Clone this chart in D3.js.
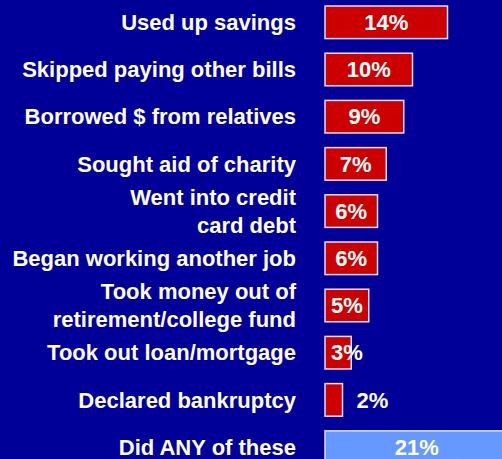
<!DOCTYPE html>
<html>
<head>
<meta charset="utf-8">
<script src="https://cdn.jsdelivr.net/npm/d3@7"></script>
<style>
  html, body { margin: 0; padding: 0; background: #000099; overflow: hidden; }
  svg { display: block; }
</style>
</head>
<body>
<script>
var width = 502,
    height = 459;

// what people did, top to bottom
var categories = [
  "Used up savings",
  "Skipped paying other bills",
  "Borrowed $ from relatives",
  "Sought aid of charity",
  "Went into credit\ncard debt",
  "Began working another job",
  "Took money out of\nretirement/college fund",
  "Took out loan/mortgage",
  "Declared bankruptcy",
  "Did ANY of these"
];
var percents = [14, 10, 9, 7, 6, 6, 5, 3, 2, 21];
var totalRow = "Did ANY of these";

var svg = d3.select("body")
    .append("svg")
    .attr("width", width)
    .attr("height", height);

svg.append("rect")
    .attr("width", width)
    .attr("height", height)
    .attr("fill", "#000099");

var x = d3.scaleLinear()
    .domain([0, 20])
    .range([325, 500]);

var y = d3.scaleBand()
    .domain(categories)
    .range([-1.3, 470.7])
    .paddingInner(0.31)
    .paddingOuter(0.155);

var rows = categories.map(function(c, i){ return { cat: c, v: percents[i] }; });

var font = "'Liberation Sans', Arial, Helvetica, sans-serif";

// bars
svg.selectAll("rect.bar")
    .data(rows)
    .enter().append("rect")
    .attr("class", "bar")
    .attr("x", x(0))
    .attr("y", function(d){ return y(d.cat); })
    .attr("width", function(d){ return x(d.v) - x(0); })
    .attr("height", y.bandwidth())
    .attr("fill", function(d){ return d.cat == totalRow ? "#6699FF" : "#CC0000"; })
    .attr("stroke", "#E0E0F0")
    .attr("stroke-width", 1.5);

// value labels: centred if they fit, else nudged
svg.selectAll("text.val")
    .data(rows)
    .enter().append("text")
    .attr("class", "val")
    .attr("x", function(d){
        var w = x(d.v) - x(0);
        if (w >= 40) return x(0) + w / 2;
        if (w >= 24) return x(0) + 6;
        return x(d.v) + 14;
    })
    .attr("text-anchor", function(d){
        return (x(d.v) - x(0)) >= 40 ? "middle" : "start";
    })
    .attr("y", function(d){ return y(d.cat) + y.bandwidth() / 2; })
    .attr("dy", "0.35em")
    .attr("fill", "#fff")
    .style("font-family", font)
    .style("font-weight", "bold")
    .style("font-size", "22px")
    .text(function(d){ return d.v + "%"; });

// category labels, right aligned, some on two lines
var labels = svg.selectAll("text.cat")
    .data(rows)
    .enter().append("text")
    .attr("class", "cat")
    .attr("text-anchor", "end")
    .attr("fill", "#fff")
    .style("font-family", font)
    .style("font-weight", "bold")
    .style("font-size", "22px");

labels.each(function(d){
    var lines = d.cat.split("\n"),
        cy = y(d.cat) + y.bandwidth() / 2,
        lh = 27.5,
        start = cy - (lines.length - 1) * lh / 2;
    var t = d3.select(this);
    lines.forEach(function(l, i){
        t.append("tspan")
            .attr("x", 296)
            .attr("y", start + i * lh)
            .attr("dy", "0.35em")
            .text(l);
    });
});
</script>
</body>
</html>
